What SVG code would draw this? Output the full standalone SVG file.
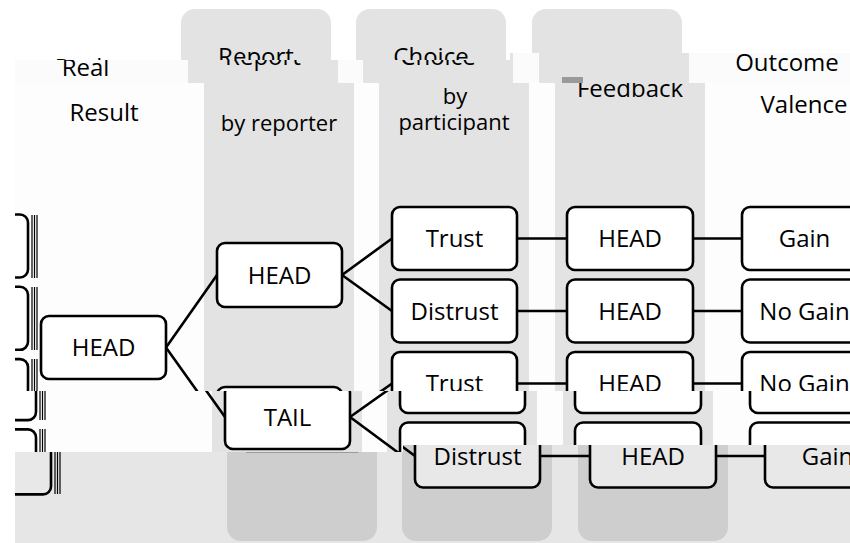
<svg xmlns="http://www.w3.org/2000/svg" xmlns:xlink="http://www.w3.org/1999/xlink" width="850" height="543" viewBox="0 0 850 543">
<style>
.col{fill:#e3e3e3}
.hd{font-family:"Open Sans","Noto Sans",sans-serif;font-size:24px;fill:#000;text-anchor:middle}
.sub{font-size:22px}
.box{fill:#fff;stroke:#000;stroke-width:2.6}
.lbl{font-family:"Open Sans","Noto Sans",sans-serif;font-size:24px;fill:#000;text-anchor:middle}
.edge{stroke:#000;stroke-width:2.6;fill:none}
.tri{stroke:#000;stroke-width:1.2;fill:none}
</style>
<defs>
<clipPath id="c1" clipPathUnits="userSpaceOnUse"><polygon points="0,0 850,0 850,53 510,53 510,60 0,60"/></clipPath>
<clipPath id="c2" clipPathUnits="userSpaceOnUse"><polygon points="15,60 510,60 510,53 850,53 850,83 15,83"/></clipPath>
<clipPath id="c3" clipPathUnits="userSpaceOnUse"><rect x="15" y="83" width="835" height="308"/></clipPath>
<clipPath id="c4" clipPathUnits="userSpaceOnUse"><polygon points="15,391 850,391 850,445 403,445 403,452 15,452"/></clipPath>
<clipPath id="c5" clipPathUnits="userSpaceOnUse"><polygon points="15,452 403,452 403,445 850,445 850,543 15,543"/></clipPath>

<g id="columns">
<rect class="col" x="204" y="26" width="150" height="515" rx="14"/>
<rect class="col" x="379" y="26" width="150" height="515" rx="14"/>
<rect class="col" x="555" y="26" width="150" height="515" rx="14"/>
</g>
<g id="h-lower">
<text class="hd" x="104" y="121">Result</text>
<text class="hd sub" x="279" y="131">by reporter</text>
<text class="hd sub" x="455" y="104">by</text>
<text class="hd sub" x="454" y="130">participant</text>
<text class="hd" x="630" y="97">Feedback</text>
<text class="hd" x="804" y="113">Valence</text>
</g>

<g id="leftboxes">
<rect class="box" x="-100" y="214.5" width="128" height="63" rx="8"/>
<rect class="box" x="-100" y="286.8" width="128" height="63" rx="8"/>
<rect class="box" x="-100" y="359.1" width="128" height="63" rx="8"/>
<rect class="box" x="-100" y="431.4" width="128" height="63" rx="8"/>
<path class="tri" d="M32,215V278M34.5,215V278M37,215V278M32,287V350M34.5,287V350M37,287V350M32,359V422M34.5,359V422M37,359V422M32,431V494M34.5,431V494M37,431V494"/>
</g>

<g id="connectors">
<path class="edge" d="M166,347.5L217,275M166,347.5L217,419"/>
<path class="edge" d="M342,275L392,238.5M342,275L392,311"/>
<path class="edge" d="M342,419L392,383.5M342,419L392,456"/>
<path class="edge" d="M517,238.5H567M517,311H567M517,383.5H567M517,456H567"/>
<path class="edge" d="M693,238.5H742M693,311H742M693,383.5H742M693,456H742"/>
</g>

<g id="nodes">
<g id="n-real-head"><rect class="box" x="41" y="316" width="125" height="63" rx="8"/><text class="lbl" x="103.5" y="356">HEAD</text></g>
<g id="n-rep-head"><rect class="box" x="217" y="243" width="125" height="64" rx="8"/><text class="lbl" x="279.5" y="283.5">HEAD</text></g>
<g id="n-rep-tail"><rect class="box" x="217" y="387" width="125" height="64" rx="8"/><text class="lbl" x="279.5" y="427.5">TAIL</text></g>
<g id="n-ch1"><rect class="box" x="392" y="207" width="125" height="63" rx="8"/><text class="lbl" x="454.5" y="247">Trust</text></g>
<g id="n-ch2"><rect class="box" x="392" y="279.5" width="125" height="63" rx="8"/><text class="lbl" x="454.5" y="319.5">Distrust</text></g>
<g id="n-ch3"><rect class="box" x="392" y="352" width="125" height="63" rx="8"/><text class="lbl" x="454.5" y="392">Trust</text></g>
<g id="n-ch4"><rect class="box" x="392" y="424.5" width="125" height="63" rx="8"/><text class="lbl" x="454.5" y="464.5">Distrust</text></g>
<g id="n-fb1"><rect class="box" x="567" y="207" width="126" height="63" rx="8"/><text class="lbl" x="630" y="247">HEAD</text></g>
<g id="n-fb2"><rect class="box" x="567" y="279.5" width="126" height="63" rx="8"/><text class="lbl" x="630" y="319.5">HEAD</text></g>
<g id="n-fb3"><rect class="box" x="567" y="352" width="126" height="63" rx="8"/><text class="lbl" x="630" y="392">HEAD</text></g>
<g id="n-fb4"><rect class="box" x="567" y="424.5" width="126" height="63" rx="8"/><text class="lbl" x="630" y="464.5">HEAD</text></g>
<g id="n-oc1"><rect class="box" x="742" y="207" width="125" height="63" rx="8"/><text class="lbl" x="804.5" y="247">Gain</text></g>
<g id="n-oc2"><rect class="box" x="742" y="279.5" width="125" height="63" rx="8"/><text class="lbl" x="804.5" y="319.5">No Gain</text></g>
<g id="n-oc3"><rect class="box" x="742" y="352" width="125" height="63" rx="8"/><text class="lbl" x="804.5" y="392">No Gain</text></g>
<g id="n-oc4"><rect class="box" x="742" y="424.5" width="125" height="63" rx="8"/><text class="lbl" x="804.5" y="464.5">Gain</text></g>
</g>

<g id="scene">
<rect x="-10" y="0" width="880" height="560" fill="#fdfdfd"/>
<use xlink:href="#columns"/>
<use xlink:href="#h-lower"/>
<use xlink:href="#leftboxes"/>
<use xlink:href="#connectors"/>
<use xlink:href="#nodes"/>
</g>
</defs>

<rect width="850" height="543" fill="#fff"/>

<g id="band1" clip-path="url(#c1)">
<use xlink:href="#columns" transform="translate(-23,-17)"/>
<text class="hd" x="78.5" y="76">Real</text>
<text class="hd" x="256" y="65">Report</text>
<text class="hd" x="431" y="65">Choice</text>
</g>

<g id="band2" clip-path="url(#c2)">
<rect x="15" y="53" width="835" height="30" fill="#fbfbfb"/>
<use xlink:href="#columns" transform="translate(-16,-17)"/>
<text class="hd" x="85.5" y="76">Real</text>
<text class="hd" x="263" y="65">Report</text>
<text class="hd" x="438" y="65">Choice</text>
<text class="hd" x="787" y="71">Outcome</text>
<rect x="562" y="77" width="21" height="6" fill="#9a9a9a"/>
</g>

<g id="band3" clip-path="url(#c3)">
<use xlink:href="#scene"/>
</g>

<g id="band4" clip-path="url(#c4)">
<use xlink:href="#scene" transform="translate(8,-2)"/>
</g>

<g id="band5" clip-path="url(#c5)">
<use xlink:href="#scene" transform="translate(23,0)"/>
<rect x="15" y="440" width="835" height="103" fill="#000" opacity="0.09"/>
</g>
</svg>
